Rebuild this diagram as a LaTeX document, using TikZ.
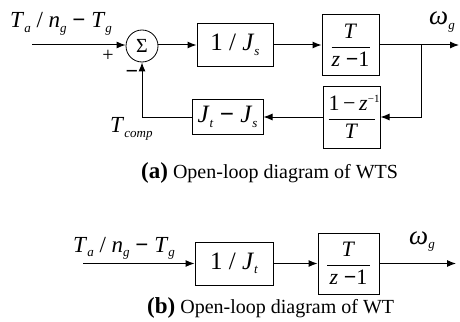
\documentclass[tikz,border=0pt]{standalone}
\usepackage{fontspec}
\setmainfont{Liberation Serif}
\usetikzlibrary{arrows.meta}
\newcommand{\subx}[2][4.5pt]{\raisebox{-#1}{\fontsize{13}{13}\selectfont\textit{#2}}}
\newcommand{\fracx}[3][40pt]{$\displaystyle\frac{\hbox to #1{\hfil#2\hfil}}{\hbox to #1{\hfil#3\hfil}}$}
\newcommand{\mns}{\textbf{−}}
\tikzset{
  lbl/.style={inner sep=0pt, font=\fontsize{23}{26}\selectfont},
  blk/.style={draw, line width=1pt, inner sep=0pt, font=\fontsize{25}{28}\selectfont},
  fblk/.style={draw, line width=1pt, inner sep=0pt, font=\fontsize{22}{24}\selectfont},
  arr/.style={line width=1pt, -{Latex[length=9pt,width=7pt]}},
  captxt/.style={inner sep=0pt, anchor=base west}
}
\begin{document}
\begin{tikzpicture}[x=1pt,y=-1pt]
\useasboundingbox (0,0) rectangle (460,321);
% ---------- (a) ----------
\node[lbl, anchor=base west] (lin) at (10,28) {\textit{T}\subx{a} / \textit{n}\subx{g} \mns{} \textit{T}\subx{g}};
\node[circle, draw, line width=0.8pt, minimum size=32pt, inner sep=0pt, font=\fontsize{20}{20}\selectfont] (sum) at (142,46) {Σ};
\node[lbl, font=\fontsize{20}{20}\selectfont] (plus) at (108,56) {+};
\node[lbl, font=\fontsize{22}{22}\selectfont\bfseries] (minus) at (132,74) {−};
\node[blk, minimum width=76pt, minimum height=42pt] (js) at (235,45) {1 / \textit{J}\subx{s}};
\node[fblk, minimum width=57pt, minimum height=61pt] (tz) at (350.5,45) {\fracx[38pt]{\textit{T}}{\textit{z} \mns1}};
\node[fblk, minimum width=57pt, minimum height=62pt] (dz) at (351.5,117) {\fracx[46pt]{1 − \textit{z}\raisebox{8pt}{\fontsize{11}{11}\selectfont −1}}{\textit{T}}};
\node[blk, minimum width=71pt, minimum height=35pt] (jj) at (227.5,117) {\textit{J}\subx{t} \mns{} \textit{J}\subx{s}};
\node[lbl, anchor=base west] (tc) at (110,132) {\textit{T}\subx[5pt]{comp}};
\node[lbl, anchor=base west, font=\fontsize{27}{27}\selectfont] (wg) at (429,25) {\textit{ω}\subx{g}};
\coordinate (inA) at (32,45);
\coordinate (br) at (421,45);
\coordinate (outA) at (459,45);
\draw[arr] (inA) -- (inA -| sum.west);
\draw[arr] (sum.east |- inA) -- (js.west |- inA);
\draw[arr] (js.east |- inA) -- (tz.west |- inA);
\draw[arr] (tz.east |- inA) -- (outA);
\draw[arr] (br) |- (dz.east);
\draw[arr] (dz.west) -- (jj.east);
\draw[arr] (jj.west) -| (sum.south);
\node[captxt] (capa) at (141,178) {\fontsize{23}{23}\selectfont\bfseries (a)\mdseries\fontsize{20}{20}\selectfont\ Open-loop diagram of WTS};
% ---------- (b) ----------
\node[lbl, anchor=base west] (lin2) at (73,252) {\textit{T}\subx{a} / \textit{n}\subx{g} \mns{} \textit{T}\subx{g}};
\node[blk, minimum width=78pt, minimum height=43pt] (jt) at (234,263.5) {1 / \textit{J}\subx{t}};
\node[fblk, minimum width=61pt, minimum height=61pt] (tz2) at (348.5,263.5) {\fracx[43pt]{\textit{T}}{\textit{z} \mns1}};
\node[lbl, anchor=base west, font=\fontsize{27}{27}\selectfont] (wg2) at (409,244) {\textit{ω}\subx{g}};
\coordinate (inB) at (83,263.5);
\coordinate (outB) at (456,263.5);
\draw[arr] (inB) -- (jt.west);
\draw[arr] (jt.east) -- (tz2.west);
\draw[arr] (tz2.east) -- (outB);
\node[captxt] (capb) at (147,313) {\fontsize{23}{23}\selectfont\bfseries (b)\mdseries\fontsize{20}{20}\selectfont\ Open-loop diagram of WT};
\end{tikzpicture}
\end{document}
